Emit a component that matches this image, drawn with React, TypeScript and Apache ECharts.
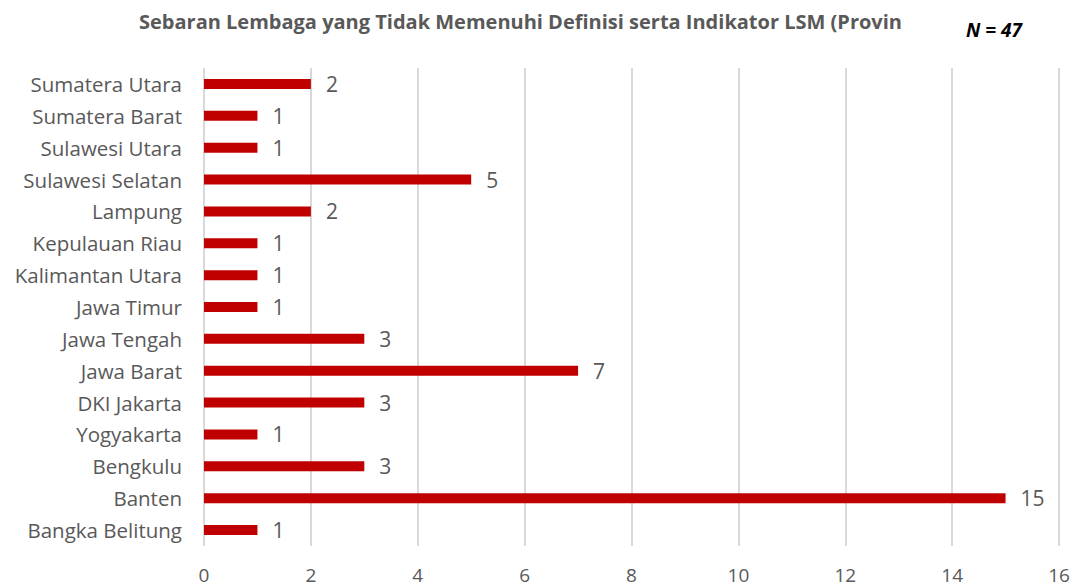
import React, { useEffect, useRef } from "react";
import * as echarts from "echarts";

const categories = [
  "Bangka Belitung",
  "Banten",
  "Bengkulu",
  "Yogyakarta",
  "DKI Jakarta",
  "Jawa Barat",
  "Jawa Tengah",
  "Jawa Timur",
  "Kalimantan Utara",
  "Kepulauan Riau",
  "Lampung",
  "Sulawesi Selatan",
  "Sulawesi Utara",
  "Sumatera Barat",
  "Sumatera Utara",
];
const values = [1, 15, 3, 1, 3, 7, 3, 1, 1, 1, 2, 5, 1, 1, 2];
const titleText = "Sebaran Lembaga yang Tidak Memenuhi Definisi serta Indikator LSM (Provin";
const noteText = "N = 47";

export default function App() {
  const ref = useRef<HTMLDivElement>(null);
  useEffect(() => {
    if (!ref.current) return;
    const chart = echarts.init(ref.current, null, { renderer: "svg" });
    const font = "'Open Sans', 'Noto Sans', sans-serif";
    chart.setOption({
      animation: false,
      backgroundColor: "#ffffff",
      graphic: [
        {
          type: "text",
          left: 139,
          top: 11,
          style: {
            text: titleText,
            font: `bold 20px ${font}`,
            fill: "#595959",
          },
        },
        {
          type: "text",
          left: 966,
          top: 20,
          style: {
            text: noteText,
            font: `italic bold 19px ${font}`,
            fill: "#000000",
          },
        },
      ],
      grid: { left: 204, right: 15, top: 68, bottom: 40, containLabel: false },
      xAxis: {
        type: "value",
        min: 0,
        max: 16,
        interval: 2,
        axisLine: { show: false },
        axisTick: { show: false },
        axisLabel: { color: "#595959", fontSize: 19, lineHeight: 19, fontFamily: font, margin: 19 },
        splitLine: { show: true, lineStyle: { color: "#d9d9d9", width: 2 } },
      },
      yAxis: {
        type: "category",
        data: categories,
        axisLine: { show: false },
        axisTick: { show: false },
        axisLabel: { color: "#595959", fontSize: 20.5, fontFamily: font, margin: 22 },
        splitLine: { show: false },
      },
      series: [
        {
          type: "bar",
          data: values,
          barWidth: 10,
          itemStyle: { color: "#C00000" },
          label: {
            show: true,
            position: "right",
            distance: 15,
            color: "#595959",
            fontSize: 21,
            fontFamily: font,
          },
        },
      ],
    });
    return () => chart.dispose();
  }, []);
  return <div ref={ref} style={{ width: 1074, height: 586, position: "absolute", left: 0, top: 0 }} />;
}
